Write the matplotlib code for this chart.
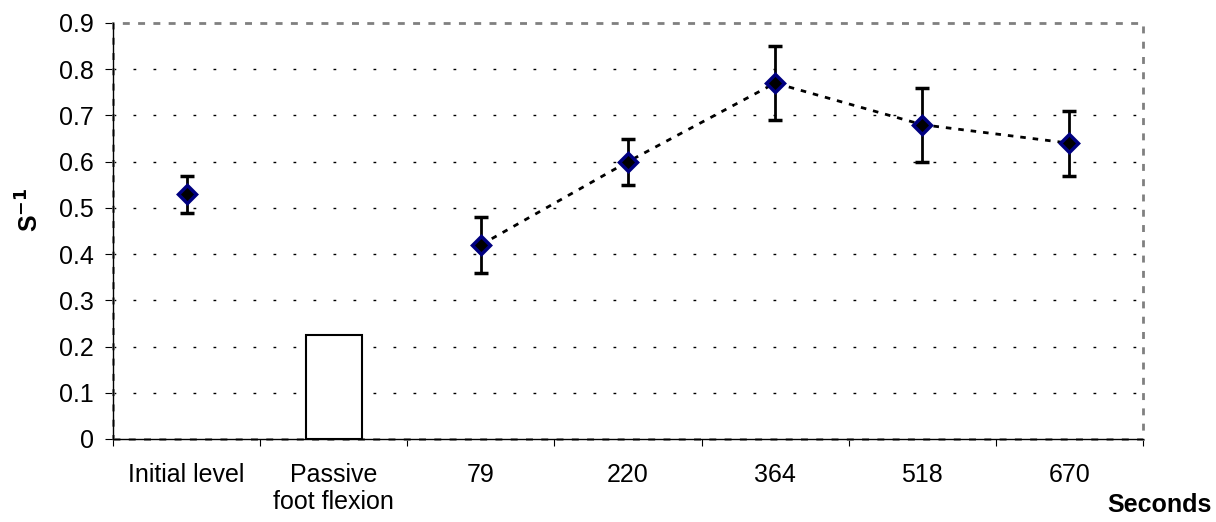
import matplotlib.pyplot as plt
from matplotlib.patches import Rectangle

plt.rcParams['font.family'] = ['Liberation Sans', 'DejaVu Sans']

categories = ["Initial level", "Passive\nfoot flexion", "79", "220", "364", "518", "670"]
bar_value = 0.225  # passive foot flexion
init_value = 0.53
init_err = 0.04
series_values = [0.42, 0.60, 0.77, 0.68, 0.64]
series_err_up = [0.06, 0.05, 0.08, 0.08, 0.07]
series_err_dn = [0.06, 0.05, 0.08, 0.08, 0.07]

fig = plt.figure(figsize=(12.16, 5.22), dpi=100)
ax = fig.add_axes([113/1216, 1-439/522, 1030/1216, 416/522])

x = list(range(len(categories)))
ax.bar(x[1], bar_value, width=0.38, color='white', edgecolor='black', linewidth=1.5, zorder=3)

mstyle = dict(fmt='D', color='black', ecolor='black', mfc='black', mec='#000080',
              mew=2.5, ms=9, elinewidth=2, capsize=5, capthick=2, zorder=5)
ax.errorbar(x[0], init_value, yerr=init_err, **mstyle)
ax.plot(x[2:], series_values, color='black', ls=(0, (2, 2.5)), lw=2, zorder=4)
ax.errorbar(x[2:], series_values, yerr=[series_err_dn, series_err_up], **mstyle)

ax.set_xlim(-0.5, len(categories) - 0.5)
ax.set_ylim(0, 0.9)
ax.set_yticks([i / 10 for i in range(10)])
ax.set_yticklabels(["0"] + [f"{i/10:.1f}" for i in range(1, 10)])
ax.set_xticks([i + 0.5 for i in range(-1, len(categories))])
ax.set_xticklabels([])
ax.set_xticks(x, minor=True)
ax.set_xticklabels(categories, minor=True)
ax.tick_params(axis='x', which='minor', length=0, pad=17, labelsize=18)
ax.tick_params(axis='x', which='major', length=5, direction='out', color='black')
ax.tick_params(axis='y', length=6, direction='out', labelsize=18, pad=8)

for yv in [i / 10 for i in range(1, 9)]:
    ax.axhline(yv, color='black', ls=(0, (2, 12.4)), lw=1, zorder=1)

for s in ['top', 'right']:
    ax.spines[s].set_visible(False)
ax.spines['left'].set_linewidth(1)
ax.spines['bottom'].set_linewidth(1)
ax.add_patch(Rectangle((0, 0), 1, 1, transform=ax.transAxes, fill=False,
                       edgecolor='#808080', lw=2, ls=(0, (2.5, 3)), clip_on=False, zorder=2))

fig.text(30/1216, 1-210/522, "S$^{\\mathbf{-1}}$", fontsize=18, fontweight='bold',
         rotation=90, ha='center', va='center')
fig.text(1212/1216, 1-512/522, "Seconds", fontsize=18, fontweight='bold', ha='right', va='baseline')

fig.savefig("out.png", dpi=100)
